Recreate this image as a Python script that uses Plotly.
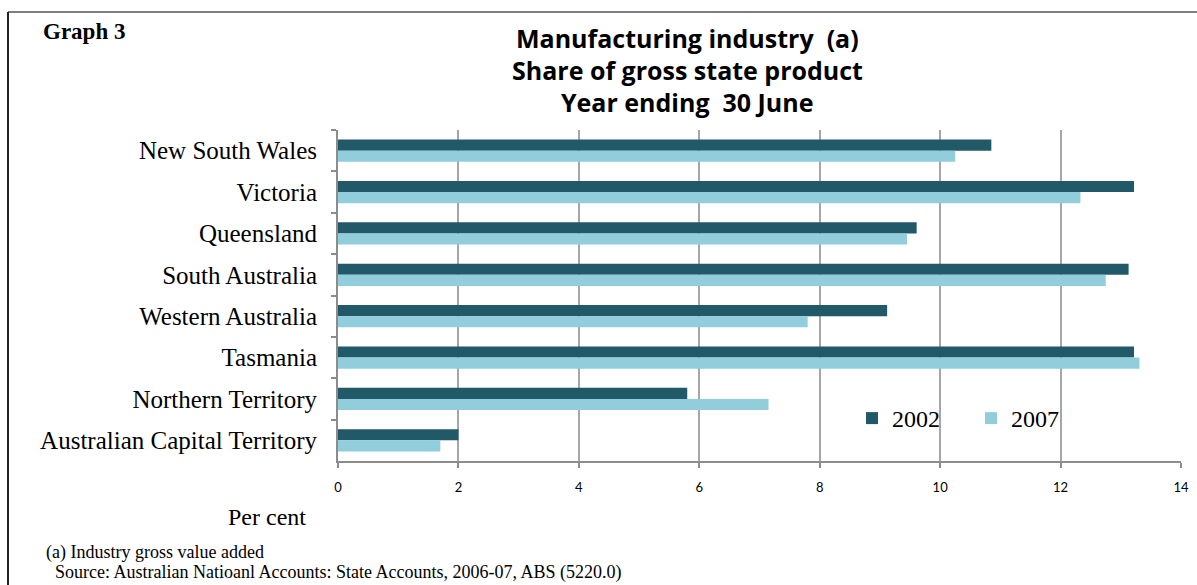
import plotly.graph_objects as go

# Manufacturing share of gross state product, per cent
states = [
    "New South Wales",
    "Victoria",
    "Queensland",
    "South Australia",
    "Western Australia",
    "Tasmania",
    "Northern Territory",
    "Australian Capital Territory",
]
share_2002 = [10.85, 13.22, 9.61, 13.13, 9.12, 13.22, 5.80, 2.00]
share_2007 = [10.25, 12.33, 9.45, 12.75, 7.80, 13.31, 7.15, 1.70]
x_ticks = [0, 2, 4, 6, 8, 10, 12, 14]

W, H = 1197, 585
SERIF = "Liberation Serif, Times New Roman, serif"
SANS = "Open Sans, Calibri, sans-serif"
TICK_SANS = "Lato, Calibri, sans-serif"
DARK = "#215968"
LIGHT = "#92CDDC"
GRID = "#a6a6a6"
AXIS = "#8c8c8c"

# plot area in pixels
PL, PR, PT, PB = 338, 1181, 130, 461


def px(x):
    return x / W


def py(y):
    return 1 - y / H


fig = go.Figure()
fig.add_trace(go.Bar(name="2002", y=states, x=share_2002, orientation="h",
                     marker=dict(color=DARK, line=dict(width=0))))
fig.add_trace(go.Bar(name="2007", y=states, x=share_2007, orientation="h",
                     marker=dict(color=LIGHT, line=dict(width=0))))

annotations = [
    dict(text="<b>Graph 3</b>", x=px(41), y=py(31), xanchor="left", yanchor="middle",
         font=dict(family=SERIF, size=23, color="#000"), showarrow=False),
    dict(text="<b>Manufacturing industry  (a)</b>", x=px(687), y=py(38),
         xanchor="center", yanchor="middle",
         font=dict(family=SANS, size=25, color="#000"), showarrow=False),
    dict(text="<b>Share of gross state product</b>", x=px(687), y=py(70),
         xanchor="center", yanchor="middle",
         font=dict(family=SANS, size=25, color="#000"), showarrow=False),
    dict(text="<b>Year ending  30 June</b>", x=px(687), y=py(102),
         xanchor="center", yanchor="middle",
         font=dict(family=SANS, size=25, color="#000"), showarrow=False),
    dict(text="Per cent", x=px(267), y=py(517), xanchor="center", yanchor="middle",
         font=dict(family=SERIF, size=24, color="#000"), showarrow=False),
    dict(text="(a) Industry gross value added", x=px(44), y=py(552),
         xanchor="left", yanchor="middle",
         font=dict(family=SERIF, size=18, color="#000"), showarrow=False),
    dict(text="Source: Australian Natioanl Accounts: State Accounts, 2006-07, ABS (5220.0)",
         x=px(53), y=py(572), xanchor="left", yanchor="middle",
         font=dict(family=SERIF, size=18, color="#000"), showarrow=False),
]
for a in annotations:
    a.update(xref="paper", yref="paper")

shapes = [
    # frame: top and left edges
    dict(type="line", xref="paper", yref="paper", x0=px(8), x1=1, y0=py(12), y1=py(12),
         line=dict(color="#555555", width=1.5)),
    dict(type="line", xref="paper", yref="paper", x0=px(8), x1=px(8), y0=py(12), y1=0,
         line=dict(color="#222222", width=2)),
]

fig.update_layout(
    width=W, height=H,
    margin=dict(l=0, r=0, t=0, b=0),
    paper_bgcolor="white", plot_bgcolor="white",
    barmode="group", bargap=0.46, bargroupgap=0,
    annotations=annotations,
    shapes=shapes,
    legend=dict(orientation="h", x=px(852), y=py(396), xanchor="left", yanchor="top",
                font=dict(family=SERIF, size=24, color="#000"),
                bgcolor="rgba(0,0,0,0)", entrywidth=74, entrywidthmode="pixels",
                traceorder="normal"),
    xaxis=dict(domain=[px(PL), px(PR)], range=[0, 14], tickvals=x_ticks,
               ticktext=[str(t) for t in x_ticks],
               showgrid=True, gridcolor=GRID, gridwidth=1.5,
               showline=True, linecolor=AXIS, linewidth=2,
               ticks="outside", ticklen=5, tickcolor=AXIS, tickwidth=1.5,
               ticklabelstandoff=8,
               tickfont=dict(family=TICK_SANS, size=13, color="#000"),
               zeroline=False, fixedrange=True, automargin=False),
    yaxis=dict(domain=[py(PB), py(PT)], autorange="reversed",
               categoryorder="array", categoryarray=states,
               showline=True, linecolor=AXIS, linewidth=2,
               ticks="outside", ticklen=5, tickcolor=AXIS, tickwidth=1.5,
               tickson="boundaries", ticklabelstandoff=14,
               tickfont=dict(family=SERIF, size=25, color="#000"),
               showgrid=False, zeroline=False, fixedrange=True, automargin=False),
)

fig.write_html("out.html")
